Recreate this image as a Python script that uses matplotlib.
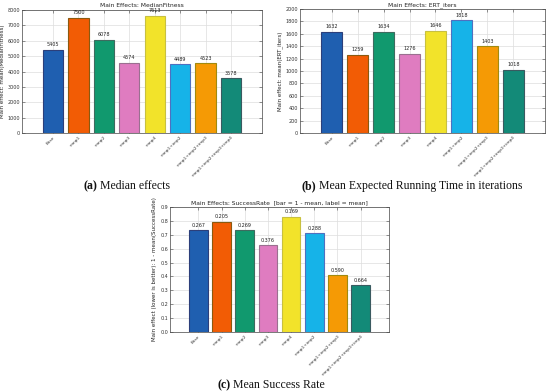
import matplotlib
matplotlib.use("Agg")
import matplotlib.pyplot as plt
import numpy as np

categories = ["Base", "+imp1", "+imp2", "+imp3", "+imp4", "+imp1+imp2",
              "+imp1+imp2+imp3", "+imp1+imp2+imp3+imp4"]
median_fitness = [5405, 7500, 6078, 4574, 7613, 4489, 4523, 3578]
ert_iters = [1632, 1259, 1634, 1276, 1646, 1818, 1403, 1018]
success_rate = [0.267, 0.205, 0.269, 0.376, 0.169, 0.288, 0.590, 0.664]

colors = ["#1f5fb0", "#f25c05", "#11996e", "#df7cc0", "#f2e32a",
          "#16b3e8", "#f59a05", "#138a78"]
edges = ["#2c3f7a", "#8a5a10", "#3e6b5f", "#9a7090", "#c8c040",
         "#4f70c0", "#a08a10", "#3a5a60"]

W, H = 550, 392
fig = plt.figure(figsize=(W / 100, H / 100), dpi=100)

def px_axes(l, t, r, b):
    return fig.add_axes([l / W, 1 - b / H, (r - l) / W, (b - t) / H])

def panel(ax, values, labels, ymax, ystep, title, ylabel, fmt):
    x = np.arange(1, len(values) + 1)
    ax.bar(x, values, width=0.8, color=colors, edgecolor=edges, linewidth=0.8, zorder=2)
    for xi, v, lab in zip(x, values, labels):
        ax.text(xi, v + ymax * 0.02, fmt(lab), ha="center", va="bottom",
                fontsize=3.5, color="#222222", zorder=3)
    ax.set_xlim(-0.22, 9.22)
    ax.set_ylim(0, ymax)
    ax.set_yticks(np.arange(0, ymax + ystep / 2, ystep))
    ax.set_xticks(x)
    ax.set_xticklabels(categories, rotation=45, ha="right", rotation_mode="anchor",
                       fontsize=3.1, color="#333333")
    ax.tick_params(axis="y", labelsize=3.5, labelcolor="#333333")
    ax.tick_params(direction="in", length=2, width=0.4, top=True, right=True,
                   color="#444444", pad=1.5)
    ax.grid(True, color="#dddddd", linewidth=0.5, zorder=0)
    ax.set_axisbelow(True)
    for s in ax.spines.values():
        s.set_linewidth(0.5)
        s.set_color("#444444")
    ax.set_title(title, fontsize=4.3, pad=2, color="#222222")
    ax.set_ylabel(ylabel, fontsize=4.0, labelpad=2, color="#222222")

ax_a = px_axes(22, 10, 262, 133)
panel(ax_a, median_fitness, median_fitness, 8000, 1000,
      "Main Effects: MedianFitness", "Main effect: mean(MedianFitness)",
      lambda v: f"{v}")

ax_b = px_axes(300, 9, 545, 133)
panel(ax_b, ert_iters, ert_iters, 2000, 200,
      "Main Effects: ERT_iters", "Main effect: mean(ERT_iters)",
      lambda v: f"{v}")

ax_c = px_axes(170, 207, 389, 332)
bars_c = [1 - v for v in success_rate]
panel(ax_c, bars_c, success_rate, 0.9, 0.1,
      "Main Effects: SuccessRate  [bar = 1 - mean, label = mean]",
      "Main effect (lower is better): 1 - mean(SuccessRate)",
      lambda v: f"{v:.3f}")

cap_kw = dict(va="center", fontsize=8.5, family="Liberation Serif", color="#111111")

def caption(xc, yc, letter, rest):
    r = fig.canvas.get_renderer()
    t1 = fig.text(0, 0, f"({letter})", fontweight="bold", ha="left", **cap_kw)
    t2 = fig.text(0, 0, " " + rest, ha="left", **cap_kw)
    w1 = t1.get_window_extent(r).width
    w2 = t2.get_window_extent(r).width
    x0 = xc - (w1 + w2) / 2
    t1.set_position((x0 / W, 1 - yc / H))
    t2.set_position(((x0 + w1) / W, 1 - yc / H))

caption(127, 186, "a", "Median effects")
caption(412, 186, "b", "Mean Expected Running Time in iterations")
caption(271, 385, "c", "Mean Success Rate")

fig.savefig("out.png", dpi=100)
